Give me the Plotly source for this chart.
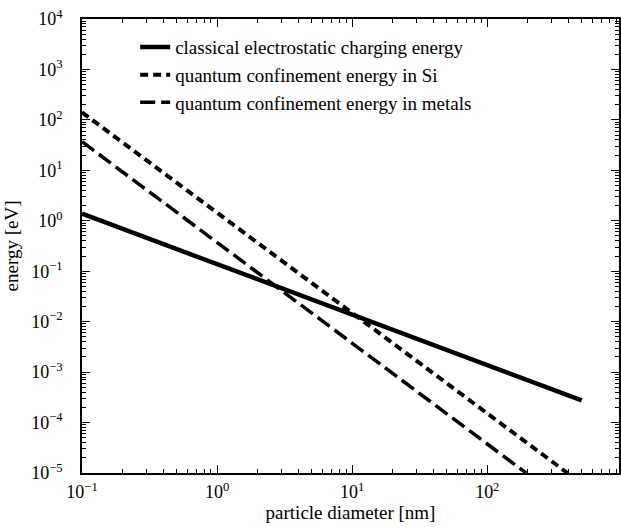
import plotly.graph_objects as go

# Data (straight lines on log-log axes: endpoints)
diam_classical = [0.1, 500]
energy_classical = [1.38, 2.75e-4]
diam_si = [0.1, 392]
energy_si = [141, 1e-5]
diam_metal = [0.1, 194]
energy_metal = [37, 1e-5]

names = ["classical electrostatic charging energy",
         "quantum confinement energy in Si",
         "quantum confinement energy in metals"]

x_tickvals = [0.1, 1, 10, 100]
x_ticktext = ["10<sup>−1</sup>", "10<sup>0</sup>", "10<sup>1</sup>", "10<sup>2</sup>"]
y_tickvals = [1e-5, 1e-4, 1e-3, 1e-2, 1e-1, 1, 10, 100, 1000, 10000]
y_ticktext = ["10<sup>−5</sup>", "10<sup>−4</sup>", "10<sup>−3</sup>", "10<sup>−2</sup>",
              "10<sup>−1</sup>", "10<sup>0</sup>", "10<sup>1</sup>", "10<sup>2</sup>",
              "10<sup>3</sup>", "10<sup>4</sup>"]

x_minor = [m * 10.0 ** e for e in range(-1, 3) for m in range(2, 10)]
y_minor = [m * 10.0 ** e for e in range(-5, 4) for m in range(2, 10)]

FONT = "Liberation Serif, Times New Roman, serif"

fig = go.Figure()
fig.add_trace(go.Scatter(x=diam_classical, y=energy_classical, mode="lines", name=names[0],
                         line=dict(color="black", width=4.5, dash="solid")))
fig.add_trace(go.Scatter(x=diam_si, y=energy_si, mode="lines", name=names[1],
                         line=dict(color="black", width=4, dash="8px,5px")))
fig.add_trace(go.Scatter(x=diam_metal, y=energy_metal, mode="lines", name=names[2],
                         line=dict(color="black", width=3.5, dash="15px,6px")))

axis_common = dict(
    type="log", showgrid=False, zeroline=False, showline=True, linecolor="black",
    linewidth=1.5, mirror="ticks", ticks="inside", ticklen=8, tickwidth=1,
    tickcolor="black", tickfont=dict(family=FONT, size=18, color="black"),
    automargin=False, ticklabeloverflow="allow",
)

fig.update_xaxes(**axis_common, range=[-1, 2.975], tickvals=x_tickvals, ticktext=x_ticktext,
                 ticklabelstandoff=2,
                 minor=dict(ticks="inside", ticklen=4, tickcolor="black", tickvals=x_minor, showgrid=False),
                 title=dict(text="particle diameter [nm]", font=dict(family=FONT, size=19, color="black"),
                            standoff=2))
fig.update_yaxes(**axis_common, range=[-5, 4], tickvals=y_tickvals, ticktext=y_ticktext,
                 ticklabelstandoff=14,
                 minor=dict(ticks="inside", ticklen=4, tickcolor="black", tickvals=y_minor, showgrid=False),
                 title=dict(text="energy [eV]", font=dict(family=FONT, size=19, color="black"),
                            standoff=8))

fig.update_layout(
    width=621, height=527,
    margin=dict(l=82, r=2, t=19, b=54, autoexpand=False),
    paper_bgcolor="white", plot_bgcolor="white",
    font=dict(family=FONT, color="black"),
    legend=dict(x=0.099, y=0.98, xanchor="left", yanchor="top",
                bgcolor="rgba(0,0,0,0)", borderwidth=0,
                font=dict(family=FONT, size=19, color="black"),
                tracegroupgap=0),
    showlegend=True,
)

# Remove the page's default 8px body margin so the figure fills the window
fig.write_html("out.html", config={"displayModeBar": False},
               post_script="document.body.style.margin='0';")
